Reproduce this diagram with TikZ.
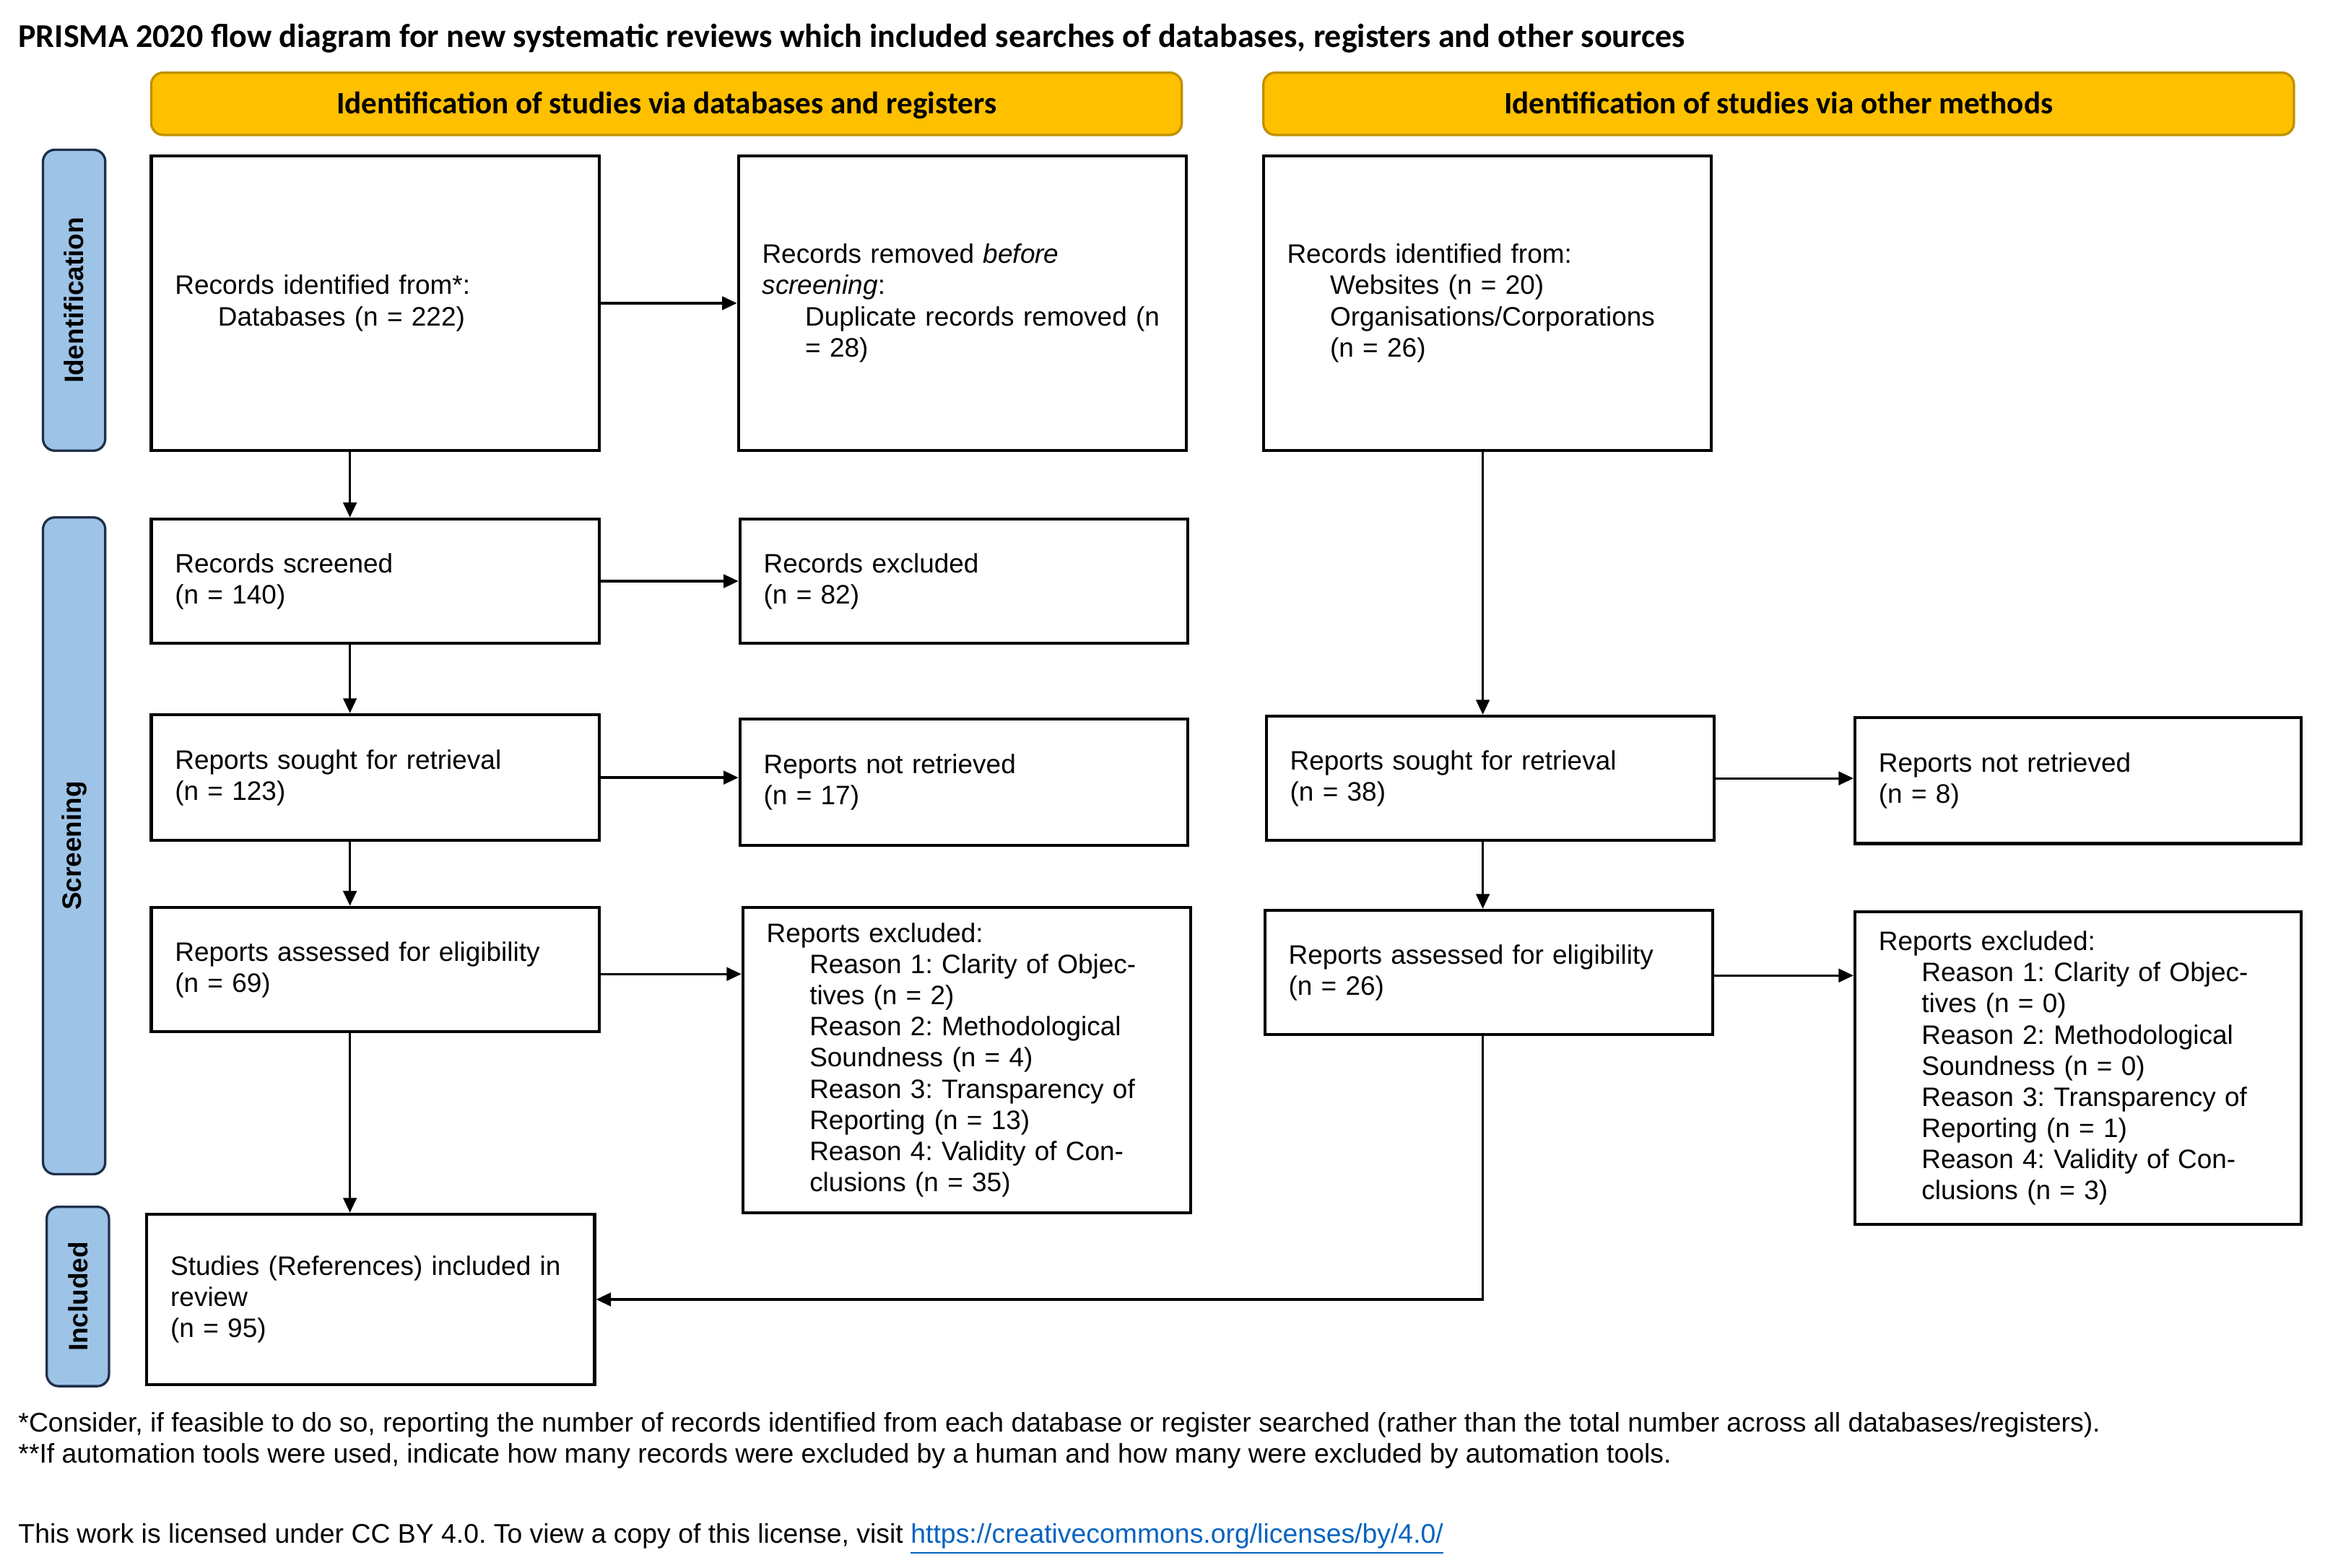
\documentclass[tikz,border=0pt]{standalone}
\usepackage{fontspec}
\setmainfont{Liberation Sans}
\newfontfamily\calibri{Carlito}
\usetikzlibrary{arrows.meta}
\definecolor{headyellow}{HTML}{FFC000}
\definecolor{headborder}{HTML}{BF9000}
\definecolor{sideblue}{HTML}{9DC3E6}
\definecolor{sideborder}{HTML}{1F2F4A}
\definecolor{linkblue}{HTML}{0563C1}
\newcommand{\indentline}{\hspace*{14.5pt}}
\frenchspacing

\begin{document}
\begin{tikzpicture}[x=0.5pt, y=-0.5pt,
    every node/.style={inner sep=0pt},
    flowbox/.style={draw, line width=1pt, anchor=north west, minimum width=151pt,
      text width=135pt, inner xsep=8pt, align=left, font=\fontsize{9}{10.5}\selectfont},
    header/.style={draw=headborder, fill=headyellow, line width=0.8pt, rounded corners=4pt,
      minimum width=347.5pt, minimum height=21pt, text height=8.5pt, text depth=2pt,
      font=\calibri\bfseries\fontsize{10.5}{12}\selectfont},
    phase/.style={draw=sideborder, fill=sideblue, line width=0.8pt, rounded corners=4pt,
      rotate=90, minimum height=21pt, font=\bfseries\fontsize{9}{11}\selectfont},
    arr/.style={-{Triangle[length=5pt,width=4.5pt]}, line width=0.8pt},
    note/.style={anchor=west, font=\fontsize{9.1}{10.5}\selectfont}]
  \useasboundingbox (0,0) rectangle (1568,1057.2);

  \node[anchor=west, font=\calibri\bfseries\fontsize{11.2}{13}\selectfont] (title) at (12,26)
    {PRISMA 2020 flow diagram for new systematic reviews which included searches of databases, registers and other sources};

  \node[header] (headdb) at (449.5,70) {Identification of studies via databases and registers};
  \node[header] (headother) at (1199.5,70) {Identification of studies via other methods};

  \node[phase, minimum width=101.5pt] (identification) at (50,202.5) {Identification};
  \node[phase, minimum width=221.5pt] (screening) at (50,570.5) {Screening};
  \node[phase, minimum width=60.5pt] (included) at (52.5,874.5) {Included};

  % databases and registers
  \node[flowbox, minimum height=99.5pt] (identified) at (101,104)
    {Records identified from*:\\ \indentline Databases (n = 222)};
  \node[flowbox, minimum height=99.5pt] (removed) at (497,104)
    {Records removed \textit{before}\\ \textit{screening}:\\ \indentline Duplicate records removed (n\\ \indentline = 28)};
  \node[flowbox, minimum height=42pt] (screened) at (101,349)
    {Records screened\\ (n = 140)};
  \node[flowbox, minimum height=42pt] (excluded) at (498,349)
    {Records excluded\\ (n = 82)};
  \node[flowbox, minimum height=42.5pt] (sought) at (101,481)
    {Reports sought for retrieval\\ (n = 123)};
  \node[flowbox, minimum height=42.5pt] (notretrieved) at (498,484)
    {Reports not retrieved\\ (n = 17)};
  \node[flowbox, minimum height=42pt] (assessed) at (101,611)
    {Reports assessed for eligibility\\ (n = 69)};
  \node[flowbox, minimum height=103pt] (reportsexcl) at (500,611)
    {Reports excluded:\\
     \indentline Reason 1: Clarity of Objec-\\ \indentline tives (n = 2)\\
     \indentline Reason 2: Methodological\\ \indentline Soundness (n = 4)\\
     \indentline Reason 3: Transparency of\\ \indentline Reporting (n = 13)\\
     \indentline Reason 4: Validity of Con-\\ \indentline clusions (n = 35)};
  \node[flowbox, minimum height=57.5pt] (studies) at (98,818)
    {Studies (References) included in\\ review\\ (n = 95)};

  % other methods
  \node[flowbox, minimum height=99.5pt] (otherid) at (851,104)
    {Records identified from:\\ \indentline Websites (n = 20)\\ \indentline Organisations/Corporations\\ \indentline (n = 26)};
  \node[flowbox, minimum height=42pt] (othersought) at (853,482)
    {Reports sought for retrieval\\ (n = 38)};
  \node[flowbox, minimum height=42.5pt, minimum width=150.5pt, text width=134.5pt] (othernot) at (1250,483)
    {Reports not retrieved\\ (n = 8)};
  \node[flowbox, minimum height=42pt] (otherassessed) at (852,613)
    {Reports assessed for eligibility\\ (n = 26)};
  \node[flowbox, minimum height=105.5pt, minimum width=150.5pt, text width=134.5pt] (otherexcl) at (1250,614)
    {Reports excluded:\\
     \indentline Reason 1: Clarity of Objec-\\ \indentline tives (n = 0)\\
     \indentline Reason 2: Methodological\\ \indentline Soundness (n = 0)\\
     \indentline Reason 3: Transparency of\\ \indentline Reporting (n = 1)\\
     \indentline Reason 4: Validity of Con-\\ \indentline clusions (n = 3)};

  \coordinate (lane) at (236,0);
  \coordinate (otherlane) at (1000,0);
  \draw[arr] (identified.south -| lane) -- (screened.north -| lane);
  \draw[arr] (screened.south -| lane) -- (sought.north -| lane);
  \draw[arr] (sought.south -| lane) -- (assessed.north -| lane);
  \draw[arr] (assessed.south -| lane) -- (studies.north -| lane);
  \draw[arr] (identified.east) -- (identified.east -| removed.west);
  \draw[arr] (screened.east) -- (screened.east -| excluded.west);
  \draw[arr] (sought.east) -- (sought.east -| notretrieved.west);
  \draw[arr] ([yshift=-1.5pt]assessed.east) -- ([yshift=-1.5pt]assessed.east -| reportsexcl.west);

  \draw[arr] (otherid.south -| otherlane) -- (othersought.north -| otherlane);
  \draw[arr] (othersought.south -| otherlane) -- (otherassessed.north -| otherlane);
  \draw[arr] (othersought.east) -- (othersought.east -| othernot.west);
  \draw[arr] ([yshift=-1pt]otherassessed.east) -- ([yshift=-1pt]otherassessed.east -| otherexcl.west);
  \draw[arr] (otherassessed.south -| otherlane) |- (studies.east);

  \node[note] (note1) at (12,961)
    {*Consider, if feasible to do so, reporting the number of records identified from each database or register searched (rather than the total number across all databases/registers).};
  \node[note] (note2) at (12,982)
    {**If automation tools were used, indicate how many records were excluded by a human and how many were excluded by automation tools.};
  \node[note] (licence) at (12,1038)
    {This work is licensed under CC BY 4.0. To view a copy of this license, visit \textcolor{linkblue}{\underline{https://creativecommons.org/licenses/by/4.0/}}};
\end{tikzpicture}
\end{document}
